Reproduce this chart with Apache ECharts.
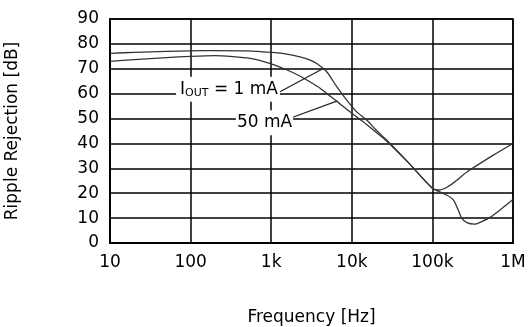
<!DOCTYPE html>
<html>
<head>
<meta charset="utf-8">
<script src="https://cdn.jsdelivr.net/npm/echarts@6/dist/echarts.min.js"></script>
<style>
html,body{margin:0;padding:0;background:#fff;}
#chart{width:528px;height:327px;}
</style>
</head>
<body>
<div id="chart"></div>
<script>
// Frequency (Hz) and ripple rejection (dB) for each load current
var freq1mA = [10, 20, 50, 100, 200, 500, 1000, 1500, 2275, 3000, 3670, 4880, 6500, 8650, 11500, 15300, 20000, 27000, 50000, 100000, 120000, 290000, 570000, 1000000];
var rr1mA   = [76.2, 76.6, 77.0, 77.2, 77.3, 77.2, 76.6, 76.0, 74.8, 73.6, 72.1, 68.8, 62.8, 57.4, 52.7, 49.4, 45.4, 41.4, 32.4, 22.0, 21.3, 29.3, 35.3, 40.0];

var freq50mA = [10, 20, 50, 100, 200, 550, 1000, 1550, 2300, 3000, 4000, 5000, 6500, 8000, 9500, 12000, 15000, 20000, 27000, 50000, 100000, 150000, 182000, 209000, 231000, 267000, 338000, 409000, 519000, 690000, 1000000];
var rr50mA   = [73.0, 73.7, 74.5, 75.0, 75.3, 74.2, 72.0, 69.6, 67.0, 64.8, 62.3, 59.8, 57.0, 54.6, 52.7, 50.2, 47.8, 44.5, 41.0, 32.4, 22.0, 19.3, 17.3, 13.3, 10.0, 8.2, 7.6, 8.6, 10.3, 13.3, 17.5];

var xTickValues = [10, 100, 1000, 10000, 100000, 1000000];
var xTickLabels = ['10', '100', '1k', '10k', '100k', '1M'];

// annotation anchors (data coordinates)
var label1mA = [291, 61.8];
var leader1mA = [[1285, 60.8], [4425, 70.1]];
var label50mA = [826, 48.3];
var leader50mA = [[1710, 50.1], [6500, 57.0]];

function zip(a, b) { return a.map(function (v, i) { return [v, b[i]]; }); }

var FONT = 'DejaVu Sans';
var chart = echarts.init(document.getElementById('chart'), null, {renderer: 'canvas'});
chart.setOption({
  animation: false,
  backgroundColor: '#fff',
  grid: {left: 110, right: 15, top: 19, bottom: 84, show: true, borderColor: '#000', borderWidth: 1.5,
         containLabel: false, outerBoundsMode: 'none'},
  xAxis: {
    type: 'log', logBase: 10, min: 10, max: 1000000,
    name: 'Frequency [Hz]', nameLocation: 'middle', nameGap: 66,
    nameTextStyle: {fontFamily: FONT, fontSize: 17, color: '#000'},
    axisLine: {show: true, lineStyle: {color: '#000', width: 2}},
    axisTick: {show: false},
    splitLine: {show: true, lineStyle: {color: '#000', width: 1.5}},
    minorSplitLine: {show: false},
    axisLabel: {
      fontFamily: FONT, fontSize: 17, color: '#000', margin: 11,
      formatter: function (v) {
        var i = xTickValues.findIndex(function (t) { return Math.abs(Math.log10(t) - Math.log10(v)) < 1e-6; });
        return i >= 0 ? xTickLabels[i] : '';
      }
    }
  },
  yAxis: {
    type: 'value', min: 0, max: 90, interval: 10,
    name: 'Ripple Rejection [dB]', nameLocation: 'middle', nameGap: 89,
    nameTextStyle: {fontFamily: FONT, fontSize: 17, color: '#000'},
    axisLine: {show: true, lineStyle: {color: '#000', width: 2}},
    axisTick: {show: false},
    splitLine: {show: true, lineStyle: {color: '#000', width: 1.5}},
    axisLabel: {fontFamily: FONT, fontSize: 17, color: '#000', margin: 11}
  },
  series: [
    {
      name: '1 mA', type: 'line', data: zip(freq1mA, rr1mA), smooth: 0.3,
      showSymbol: false, symbol: 'none',
      lineStyle: {color: '#333', width: 1.3},
      z: 3,
      markLine: {
        silent: true, symbol: 'none', animation: false,
        lineStyle: {color: '#222', width: 1.2, type: 'solid'},
        label: {show: false},
        data: [[{coord: leader1mA[0]}, {coord: leader1mA[1]}]]
      },
      markPoint: {
        silent: true, symbol: 'rect', symbolSize: 1, itemStyle: {color: 'rgba(0,0,0,0)'},
        label: {
          show: true, position: 'inside', backgroundColor: '#fff', padding: [3, 2, 2, 4],
          formatter: '{a|I}{b|OUT}{a| = 1 mA}',
          rich: {
            a: {fontFamily: FONT, fontSize: 17, color: '#000', lineHeight: 20},
            b: {fontFamily: FONT, fontSize: 11, color: '#000', lineHeight: 20, verticalAlign: 'bottom', padding: [0, 0, 1, 0]}
          }
        },
        data: [{coord: label1mA}]
      }
    },
    {
      name: '50 mA', type: 'line', data: zip(freq50mA, rr50mA), smooth: 0.2,
      showSymbol: false, symbol: 'none',
      lineStyle: {color: '#333', width: 1.3},
      z: 3,
      markLine: {
        silent: true, symbol: 'none', animation: false,
        lineStyle: {color: '#222', width: 1.2, type: 'solid'},
        label: {show: false},
        data: [[{coord: leader50mA[0]}, {coord: leader50mA[1]}]]
      },
      markPoint: {
        silent: true, symbol: 'rect', symbolSize: 1, itemStyle: {color: 'rgba(0,0,0,0)'},
        label: {
          show: true, position: 'inside', backgroundColor: '#fff', padding: [3, 1, 2, 1],
          formatter: '50 mA', fontFamily: FONT, fontSize: 17, color: '#000', lineHeight: 20
        },
        data: [{coord: label50mA}]
      }
    }
  ]
});
</script>
</body>
</html>
